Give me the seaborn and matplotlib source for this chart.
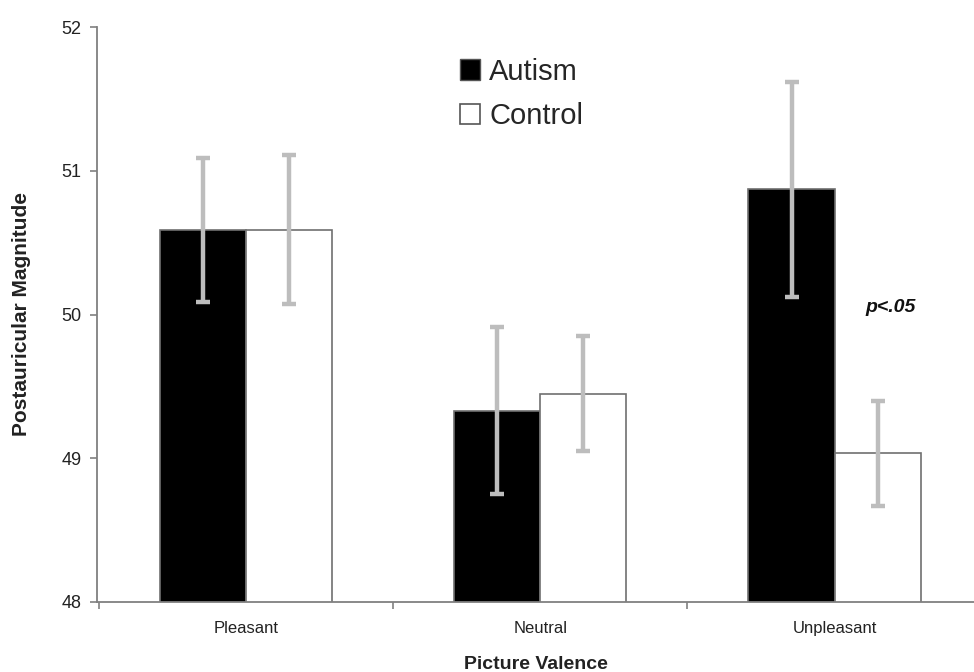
import numpy as np
import pandas as pd
import matplotlib
matplotlib.use("Agg")
import matplotlib.pyplot as plt
from matplotlib.patches import Patch
from matplotlib.ticker import FixedLocator
import seaborn as sns

# ---- data ----
categories = ["Pleasant", "Neutral", "Unpleasant"]
groups = ["Autism", "Control"]
autism_means = [50.59, 49.33, 50.87]
autism_err = [0.50, 0.58, 0.745]
control_means = [50.59, 49.45, 49.035]
control_err = [0.52, 0.40, 0.365]
y_ticks = [48, 49, 50, 51, 52]

df = pd.DataFrame({
    "valence": categories * 2,
    "group": [groups[0]] * 3 + [groups[1]] * 3,
    "value": autism_means + control_means,
})
errs = {groups[0]: autism_err, groups[1]: control_err}

sns.set_style("white")
plt.rcParams["font.family"] = ["Liberation Sans", "DejaVu Sans"]

fig = plt.figure(figsize=(9.74, 6.72), dpi=100)
ax = fig.add_axes([97 / 974, 70 / 672, 1 - 97 / 974, 575 / 672])

sns.barplot(data=df, x="valence", y="value", hue="group", order=categories,
            hue_order=groups, palette={"Autism": "black", "Control": "white"},
            width=0.585, errorbar=None, legend=False, ax=ax,
            edgecolor="#707070", linewidth=1.2)

gray_err = "#bdbdbd"
for cont, g in zip(ax.containers, groups):
    xs = [b.get_x() + b.get_width() / 2 for b in cont]
    hs = [b.get_height() for b in cont]
    ax.errorbar(xs, hs, yerr=errs[g], fmt="none", ecolor=gray_err,
                elinewidth=3.2, capsize=5, capthick=3.2, zorder=5)

ax.set_ylim(48, 52)
ax.set_yticks(y_ticks)
ax.set_xlim(-0.507, 2.474)

for s in ["top", "right"]:
    ax.spines[s].set_visible(False)
for s in ["left", "bottom"]:
    ax.spines[s].set_color("#808080")
    ax.spines[s].set_linewidth(1.3)

ax.tick_params(axis="y", which="major", direction="out", length=5, width=1.2,
               color="#808080", labelsize=13, labelcolor="#222222", pad=6, left=True)
ax.tick_params(axis="x", which="major", length=0, labelsize=12,
               labelcolor="#222222", pad=14)
ax.xaxis.set_minor_locator(FixedLocator([-0.5, 0.5, 1.5, 2.5]))
ax.tick_params(axis="x", which="minor", direction="out", length=5, width=1.2,
               color="#808080", bottom=True)

ax.set_xlabel("Picture Valence", fontsize=14, fontweight="bold",
              color="#222222", labelpad=14)
ax.set_ylabel("Postauricular Magnitude", fontsize=15, fontweight="bold",
              color="#222222", labelpad=22)

ax.text(2.19, 50.05, "p<.05", fontsize=14, fontweight="bold", style="italic",
        ha="center", va="center", color="#111111")

handles = [Patch(facecolor="black", edgecolor="#555555", linewidth=1),
           Patch(facecolor="white", edgecolor="#555555", linewidth=1.2)]
fig.legend(handles, groups, loc="center left", bbox_to_anchor=(460 / 974, 1 - 94 / 672),
           frameon=False, fontsize=21, handlelength=0.7, handleheight=0.7,
           handletextpad=0.3, labelspacing=0.58, borderpad=0, borderaxespad=0)

fig.savefig("out.png", dpi=100)
